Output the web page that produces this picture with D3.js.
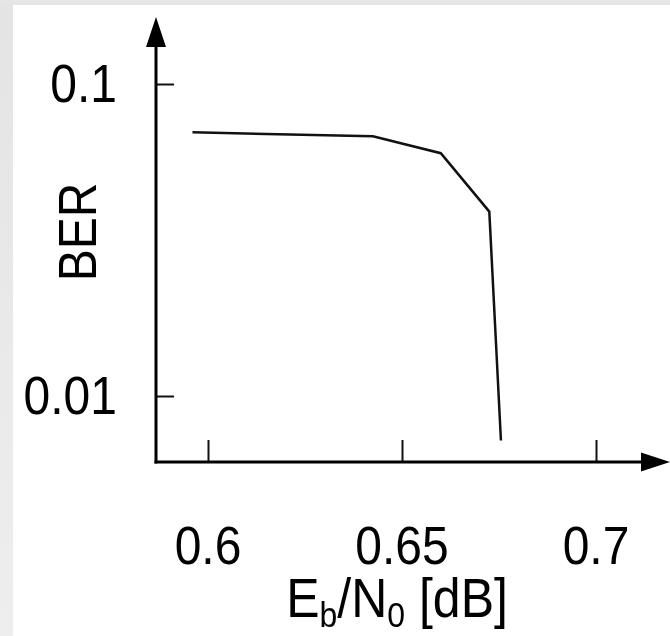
<!DOCTYPE html>
<html>
<head>
<meta charset="utf-8">
<script src="https://cdn.jsdelivr.net/npm/d3@7"></script>
<style>
  html, body { margin: 0; padding: 0; background: #e6e6e6; }
  svg { display: block; will-change: transform; }
</style>
</head>
<body>
<svg id="chart"></svg>
<script>
// Data
const ebn0 = [0.596, 0.6425, 0.66, 0.6725, 0.6755];
const ber = [0.070, 0.068, 0.060, 0.039, 0.0072];
const xTicks = [0.6, 0.65, 0.7];
const yTicks = [0.1, 0.01];

const W = 670, H = 636;
const FONT = "'Liberation Sans', Arial, sans-serif";
const FS = 48, SY = 1.1; // font size, vertical stretch of the glyphs

const svg = d3.select("#chart").attr("width", W).attr("height", H);

// grey frame + white panel
const defs = svg.append("defs");
const lg = defs.append("linearGradient").attr("id", "side").attr("x1", "0").attr("x2", "0").attr("y1", "0").attr("y2", "1");
lg.append("stop").attr("offset", "0%").attr("stop-color", "#e4e4e4");
lg.append("stop").attr("offset", "100%").attr("stop-color", "#eeeeee");
svg.append("rect").attr("width", W).attr("height", H).attr("fill", "#e6e6e6");
svg.append("rect").attr("x", 0).attr("y", 5).attr("width", 13).attr("height", H - 5).attr("fill", "url(#side)");
svg.append("rect").attr("x", 13).attr("y", 5).attr("width", W - 13).attr("height", H - 5).attr("fill", "#fff");

// scales
const x = d3.scaleLinear().domain([0.6, 0.7]).range([208, 596]);
const y = d3.scaleLog().domain([0.01, 0.1]).range([396, 84]);
const x0 = 156, y0 = 462;

// ticks (inward)
svg.append("g")
  .attr("transform", `translate(0,${y0})`)
  .call(d3.axisBottom(x).tickValues(xTicks).tickSize(-22).tickFormat(""))
  .call(ax => {
    ax.select(".domain").remove();
    ax.selectAll(".tick line").attr("stroke", "#111").attr("stroke-width", 2);
  });
svg.append("g")
  .attr("transform", `translate(${x0},0)`)
  .call(d3.axisLeft(y).tickValues(yTicks).tickSize(-18).tickFormat(""))
  .call(ax => {
    ax.select(".domain").remove();
    ax.selectAll(".tick line").attr("stroke", "#111").attr("stroke-width", 2);
  });

// axis lines with arrows
svg.append("line").attr("x1", x0).attr("x2", x0).attr("y1", y0 + 1.5).attr("y2", 40)
  .attr("stroke", "#000").attr("stroke-width", 3);
svg.append("line").attr("x1", x0 - 1.5).attr("x2", 648).attr("y1", y0).attr("y2", y0)
  .attr("stroke", "#000").attr("stroke-width", 3);
svg.append("path").attr("d", `M${x0},17 L${x0 - 10},47 L${x0 + 10},47 Z`).attr("fill", "#000");
svg.append("path").attr("d", `M670,${y0} L641,${y0 - 9.5} L641,${y0 + 9.5} Z`).attr("fill", "#000");

const label = (g, fs = FS) => g.append("text")
  .attr("transform", `scale(1,${SY})`)
  .style("font-family", FONT).style("font-size", fs + "px").style("fill", "#000");

// tick labels
svg.selectAll(".xl").data(xTicks).join("g").attr("class", "xl")
  .attr("transform", d => `translate(${x(d)},564)`)
  .each(function(d) {
    label(d3.select(this)).attr("text-anchor", "middle").text(d3.format("")(d));
  });
svg.selectAll(".yl").data(yTicks).join("g").attr("class", "yl")
  .attr("transform", d => `translate(117,${y(d) + 18})`)
  .each(function(d) {
    label(d3.select(this)).attr("text-anchor", "end").text(d3.format("")(d));
  });

// axis title, with subscripts
const xt = label(svg.append("g").attr("transform", "translate(397,617)"), 50)
  .attr("text-anchor", "middle");
[["E", 0, 50], ["b", 9, 32], ["/N", -9, 50], ["0", 9, 32], [" [dB]", -9, 50]].forEach(([s, dy, fs]) => {
  xt.append("tspan").attr("dy", dy).style("font-size", fs + "px").style("fill", "#000").text(s);
});

label(svg.append("g").attr("transform", "translate(96,232) rotate(-90)"))
  .attr("text-anchor", "middle")
  .text("BER");

// curve
svg.append("path").datum(ebn0.map((v, i) => [v, ber[i]]))
  .attr("d", d3.line().x(d => x(d[0])).y(d => y(d[1])))
  .attr("fill", "none").attr("stroke", "#111").attr("stroke-width", 2.5)
  .attr("stroke-linejoin", "miter");
</script>
</body>
</html>
